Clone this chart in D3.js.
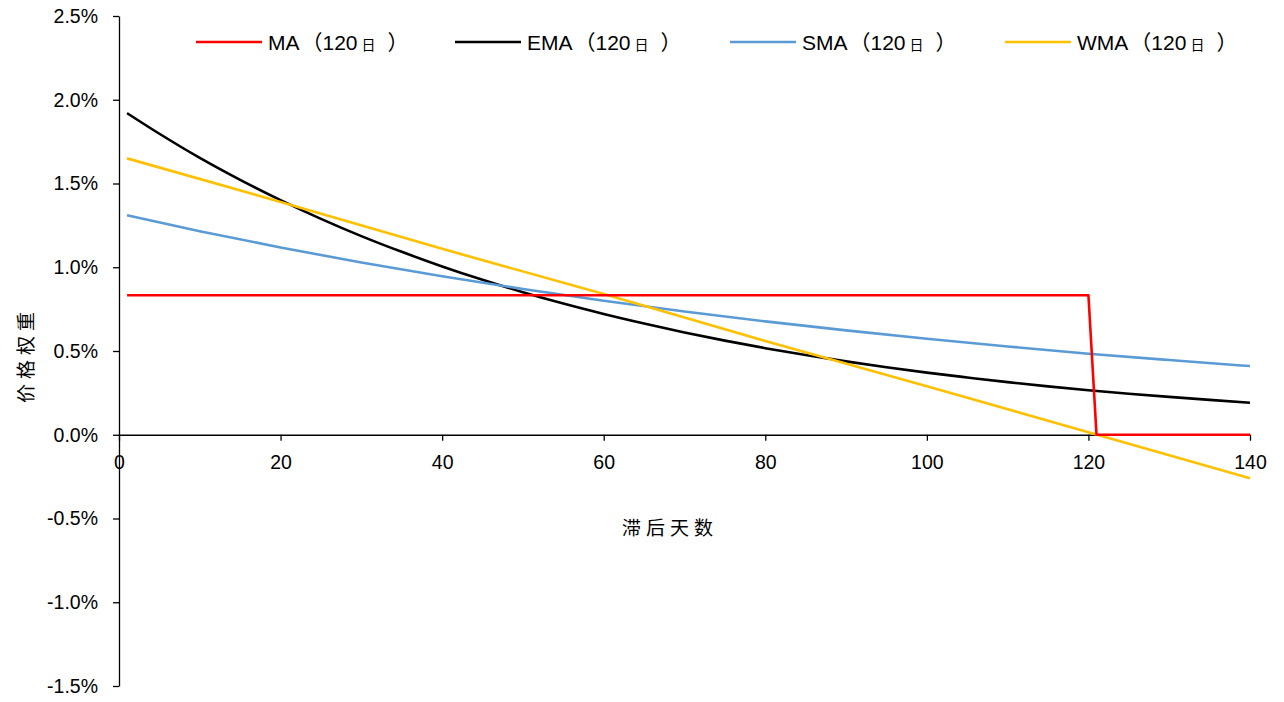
<!DOCTYPE html>
<html>
<head>
<meta charset="utf-8">
<script src="https://cdn.jsdelivr.net/npm/d3@7"></script>
<style>
  body { margin: 0; background: #fff; }
  svg { display: block; }
</style>
</head>
<body>
<svg></svg>
<script>
// lag days and price weights (%)
const seriesNames = ["MA（120日）", "EMA（120日）", "SMA（120日）", "WMA（120日）"];
const seriesColors = ["#ff0000", "#000000", "#5b9bd5", "#ffc000"];

const maDays = [1, 120, 121, 140];
const maVals = [0.833, 0.833, 0, 0];

const emaDays = [1, 5, 10, 15, 20, 25, 30, 35, 40, 45, 50, 55, 60, 65, 70, 75, 80, 85, 90, 95, 100, 105, 110, 115, 120, 125, 130, 135, 140];
const emaVals = [1.92, 1.797, 1.653, 1.522, 1.401, 1.289, 1.186, 1.092, 1.005, 0.925, 0.851, 0.783, 0.721, 0.664, 0.611, 0.562, 0.517, 0.476, 0.438, 0.403, 0.371, 0.342, 0.314, 0.289, 0.266, 0.245, 0.226, 0.208, 0.191];

const smaDays = [1, 10, 20, 30, 40, 50, 60, 70, 80, 90, 100, 110, 120, 130, 140];
const smaVals = [1.31, 1.215, 1.118, 1.028, 0.946, 0.870, 0.800, 0.736, 0.677, 0.623, 0.573, 0.527, 0.484, 0.446, 0.410];

const wmaDays = [1, 20, 40, 60, 80, 100, 120, 140];
const wmaVals = [1.65, 1.39, 1.11, 0.84, 0.56, 0.29, 0.015, -0.26];

const xTicks = [0, 20, 40, 60, 80, 100, 120, 140];
const yTicks = [-1.5, -1.0, -0.5, 0.0, 0.5, 1.0, 1.5, 2.0, 2.5];

const width = 1284, height = 702;
const svg = d3.select("svg").attr("width", width).attr("height", height);

let x = d3.scaleLinear().domain([0, 140]).range([119, 1250]);
let y = d3.scaleLinear().domain([-1.5, 2.5]).range([686, 16]);

const tickFont = g => g.selectAll(".tick text")
  .style("font-family", "'Liberation Sans', Arial, sans-serif")
  .style("font-size", "19.5px")
  .style("fill", "#000");

// y axis
svg.append("g")
  .attr("transform", "translate(119,0)")
  .call(d3.axisLeft(y).tickValues(yTicks).tickSize(6).tickSizeOuter(0).tickPadding(15)
    .tickFormat(d => d.toFixed(1) + "%"))
  .call(tickFont)
  .call(g => g.select(".domain").attr("stroke", "#000").attr("stroke-width", 1.3))
  .call(g => g.selectAll(".tick line").attr("stroke", "#000").attr("stroke-width", 1.3));

// x axis on zero line
svg.append("g")
  .attr("transform", "translate(0," + y(0) + ")")
  .call(d3.axisBottom(x).tickValues(xTicks).tickSize(6).tickSizeOuter(0).tickPadding(14))
  .call(tickFont)
  .call(g => g.select(".domain").attr("stroke", "#000").attr("stroke-width", 1.3))
  .call(g => g.selectAll(".tick line").attr("stroke", "#000").attr("stroke-width", 1.3));

let line = d3.line().x(d => x(d[0])).y(d => y(d[1]));
let curve = d3.line().x(d => x(d[0])).y(d => y(d[1])).curve(d3.curveMonotoneX);

const drawOrder = [
  [emaDays, emaVals, 1, curve],
  [smaDays, smaVals, 2, curve],
  [wmaDays, wmaVals, 3, line],
  [maDays, maVals, 0, line]
];
drawOrder.forEach(s => {
  svg.append("path")
    .datum(d3.zip(s[0], s[1]))
    .attr("fill", "none")
    .attr("stroke", seriesColors[s[2]])
    .attr("stroke-width", 2.6)
    .attr("stroke-linejoin", "round")
    .attr("d", s[3]);
});

// legend
const legendX = [196, 455, 730, 1005];
seriesNames.forEach((name, i) => {
  let g = svg.append("g").attr("transform", "translate(" + legendX[i] + ",42)");
  g.append("line").attr("x1", 0).attr("x2", 66).attr("y1", 0).attr("y2", 0)
    .attr("stroke", seriesColors[i]).attr("stroke-width", 2.6);
  let parts = name.match(/^(.*?)（(\d+)(日)）$/);
  let t = g.append("text").attr("x", 72).attr("y", 8)
    .style("font-family", "'Liberation Sans', 'Noto Sans CJK SC', sans-serif")
    .style("font-size", "21px")
    .style("fill", "#000");
  t.append("tspan").text(parts[1]);
  t.append("tspan").attr("dx", 2).text("（");
  t.append("tspan").text(parts[2]);
  t.append("tspan").attr("dx", 4).style("font-size", "14px").text(parts[3]);
  t.append("tspan").attr("dx", 12).text("）");
});

// axis titles
svg.append("text")
  .attr("x", 670).attr("y", 535)
  .attr("text-anchor", "middle")
  .style("font-family", "'Noto Sans CJK SC', sans-serif")
  .style("font-size", "19px")
  .style("letter-spacing", "5px")
  .text("滞后天数");

svg.append("text")
  .attr("transform", "translate(33,355) rotate(-90)")
  .attr("text-anchor", "middle")
  .style("font-family", "'Noto Sans CJK SC', sans-serif")
  .style("font-size", "19px")
  .style("letter-spacing", "5px")
  .text("价格权重");
</script>
</body>
</html>
